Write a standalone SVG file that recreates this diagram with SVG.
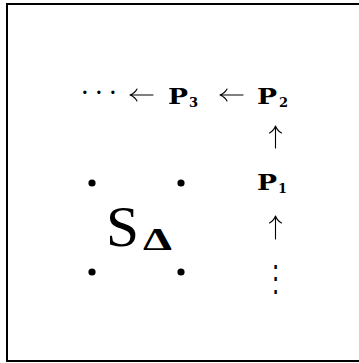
<svg xmlns="http://www.w3.org/2000/svg" width="359" height="363" viewBox="0 0 359 363">
<style>
.p{font-family:"DejaVu Serif",serif;font-weight:bold;font-size:23px;fill:#000}
.sub{font-family:"DejaVu Serif",serif;font-weight:bold;font-size:13px;fill:#000}
.arr{fill:none;stroke:#000;stroke-width:1.1;stroke-linecap:round;stroke-linejoin:round}
.dot{font-family:"Liberation Serif",serif;font-weight:bold;font-size:20px;fill:#000}
</style>
<rect x="7" y="4" width="360" height="357" fill="#fff" stroke="#000" stroke-width="2"/>
<g id="cdots"><text class="dot" x="81.5" y="98.5" letter-spacing="7.3">···</text></g>
<g id="P3"><text class="p" x="168" y="103.5" textLength="20" lengthAdjust="spacingAndGlyphs">P</text><text class="sub" x="189" y="107">3</text></g>
<g id="P2"><text class="p" x="257" y="103.5" textLength="20" lengthAdjust="spacingAndGlyphs">P</text><text class="sub" x="279" y="107">2</text></g>
<g id="P1"><text class="p" x="257" y="189.5" textLength="20" lengthAdjust="spacingAndGlyphs">P</text><text class="sub" x="278" y="193">1</text></g>
<g id="vdots"><text font-family="DejaVu Serif,serif" font-size="23" x="0" y="188" text-anchor="middle" transform="translate(275.5 0) scale(1 1.55)">⋮</text></g>
<g id="S"><text x="106" y="246" font-family="Liberation Serif,serif" font-size="56" textLength="33" lengthAdjust="spacingAndGlyphs">S</text><text x="143" y="250" font-family="Liberation Serif,serif" font-weight="bold" font-size="31" textLength="29" lengthAdjust="spacingAndGlyphs">Δ</text></g>
<g id="points">
<circle cx="92" cy="183" r="3.6"/><circle cx="181" cy="183" r="3.6"/>
<circle cx="92" cy="272" r="3.6"/><circle cx="181" cy="272" r="3.6"/>
</g>
<g id="connectors">
<path class="arr" d="M153 95H130M130 95Q135 93 137 89M130 95Q135 97 137 101"/>
<path class="arr" d="M243 95H220M220 95Q225 93 227 89M220 95Q225 97 227 101"/>
<path class="arr" d="M275.5 148V126M275.5 126Q273.5 131 269.5 133M275.5 126Q277.5 131 281.5 133"/>
<path class="arr" d="M275.5 239V216M275.5 216Q273.5 221 269.5 223M275.5 216Q277.5 221 281.5 223"/>
</g>
</svg>
